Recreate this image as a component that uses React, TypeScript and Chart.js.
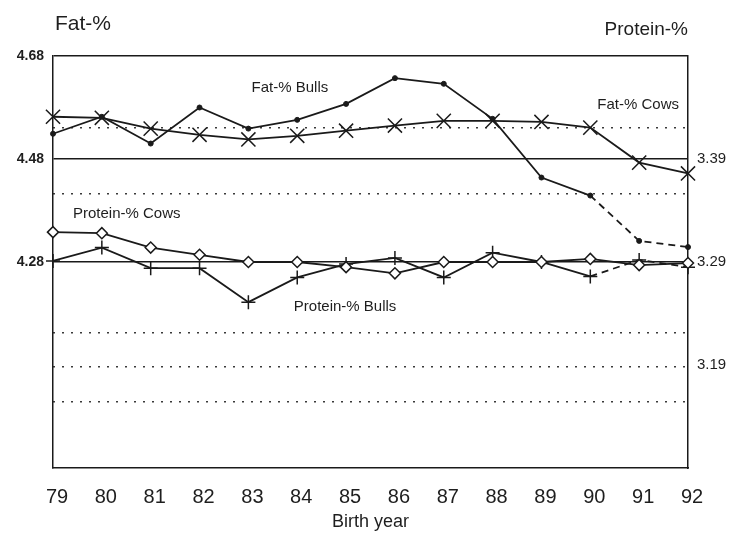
import React, { useEffect, useRef } from "react";
import { Chart, registerables } from "chart.js";

Chart.register(...registerables);

// ---- data ----
const years = ["79", "80", "81", "82", "83", "84", "85", "86", "87", "88", "89", "90", "91", "92"];
const fatBulls = [4.529, 4.562, 4.51, 4.58, 4.539, 4.556, 4.587, 4.637, 4.626, 4.558, 4.444, 4.409, 4.321, 4.309];
const fatCows = [4.562, 4.56, 4.539, 4.527, 4.518, 4.525, 4.535, 4.545, 4.554, 4.554, 4.552, 4.541, 4.473, 4.452];
const proteinCows = [3.319, 3.318, 3.304, 3.297, 3.29, 3.29, 3.285, 3.279, 3.29, 3.29, 3.29, 3.293, 3.287, 3.289];
const proteinBulls = [3.291, 3.304, 3.284, 3.284, 3.251, 3.275, 3.288, 3.294, 3.275, 3.299, 3.29, 3.276, 3.292, 3.285];
const predictedFromIndex = 11; // segments from '90 onward are dashed

const fatRange = [3.88, 4.68];
const proteinRange = [3.09, 3.49];
const fatTicks = [4.28, 4.48, 4.68];
const proteinTicks = [3.39, 3.29, 3.19];
const dottedGuides = [4.54, 4.412, 4.142, 4.076, 4.008];

const leftHeader = "Fat-%";
const rightHeader = "Protein-%";
const xTitle = "Birth year";

const seriesLabels = [
  { text: "Fat-% Bulls", year: 83.85, value: 4.618, axis: "y" },
  { text: "Fat-% Cows", year: 90.98, value: 4.585, axis: "y" },
  { text: "Protein-% Cows", year: 80.51, value: 3.337, axis: "y2" },
  { text: "Protein-% Bulls", year: 84.98, value: 3.246, axis: "y2" },
];

const FONT = "'Liberation Sans', Arial, Helvetica, sans-serif";
const INK = "#1a1a1a";
const TEXT = "#1e1e1e";

const textPlugin = {
  id: "textPlugin",
  afterDatasetsDraw(chart: any) {
    const { ctx, chartArea, scales } = chart;
    ctx.save();
    ctx.fillStyle = TEXT;
    ctx.textBaseline = "alphabetic";
    ctx.font = `21px ${FONT}`;
    ctx.textAlign = "left";
    ctx.fillText(leftHeader, chartArea.left + 2, chartArea.top - 26);
    ctx.font = `19px ${FONT}`;
    ctx.textAlign = "right";
    ctx.fillText(rightHeader, chartArea.right, chartArea.top - 21);

    ctx.font = `15px ${FONT}`;
    ctx.textAlign = "center";
    ctx.textBaseline = "middle";
    const first = Number(years[0]);
    seriesLabels.forEach((l) => {
      const x = scales.x.getPixelForValue(l.year - first);
      const y = scales[l.axis].getPixelForValue(l.value);
      ctx.fillText(l.text, x, y);
    });
    ctx.restore();
  },
};

const dashAfter = (ctx: any) => (ctx.p0DataIndex >= predictedFromIndex ? [7, 5] : undefined);

export default function App() {
  const ref = useRef<HTMLCanvasElement>(null);

  useEffect(() => {
    if (!ref.current) return;
    Chart.defaults.font.family = FONT;
    const chart = new Chart(ref.current, {
      type: "line",
      data: {
        labels: years,
        datasets: [
          {
            label: "Fat-% Bulls",
            data: fatBulls,
            yAxisID: "y",
            borderColor: INK,
            borderWidth: 1.8,
            pointStyle: "circle",
            pointRadius: 2.5,
            pointBackgroundColor: INK,
            pointBorderColor: INK,
            pointBorderWidth: 1,
            tension: 0,
            clip: false,
            segment: { borderDash: dashAfter },
          },
          {
            label: "Fat-% Cows",
            data: fatCows,
            yAxisID: "y",
            borderColor: INK,
            borderWidth: 1.8,
            pointStyle: "crossRot",
            pointRadius: 10,
            pointBorderColor: INK,
            pointBorderWidth: 1.5,
            tension: 0,
            clip: false,
          },
          {
            label: "Protein-% Cows",
            data: proteinCows,
            yAxisID: "y2",
            borderColor: INK,
            borderWidth: 1.8,
            pointStyle: "rectRot",
            pointRadius: 5.5,
            pointBackgroundColor: "#ffffff",
            pointBorderColor: INK,
            pointBorderWidth: 1.5,
            tension: 0,
            clip: false,
          },
          {
            label: "Protein-% Bulls",
            data: proteinBulls,
            yAxisID: "y2",
            borderColor: INK,
            borderWidth: 1.8,
            pointStyle: "cross",
            pointRadius: 7,
            pointBorderColor: INK,
            pointBorderWidth: 1.5,
            tension: 0,
            clip: false,
            segment: { borderDash: dashAfter },
          },
        ],
      },
      options: {
        responsive: false,
        animation: false,
        events: [],
        layout: { padding: { top: 56, left: 0, right: 0, bottom: 0 } },
        plugins: {
          legend: { display: false },
          tooltip: { enabled: false },
          title: { display: false },
        },
        scales: {
          x: {
            type: "category",
            position: "bottom",
            offset: false,
            grid: { display: false },
            border: { display: true, color: INK, width: 1.5 },
            ticks: {
              autoSkip: false,
              maxRotation: 0,
              font: { size: 20 },
              color: TEXT,
              padding: 9,
              labelOffset: 4,
            },
            title: {
              display: true,
              text: xTitle,
              font: { size: 18 },
              color: TEXT,
              padding: { top: 10, bottom: 2 },
            },
            afterFit: (s: any) => {
              s.height = 67;
            },
          },
          y: {
            type: "linear",
            position: "left",
            min: fatRange[0],
            max: fatRange[1],
            afterBuildTicks: (s: any) => {
              s.ticks = fatTicks.map((v) => ({ value: v }));
            },
            grid: { color: INK, lineWidth: 1.5, drawTicks: false },
            border: { display: true, color: INK, width: 1.5 },
            ticks: {
              font: { size: 14, weight: "bold" },
              color: TEXT,
              padding: 9,
              callback: (v: any) => Number(v).toFixed(2),
            },
            afterFit: (s: any) => {
              s.width = 53;
            },
          },
          guides: {
            type: "linear",
            position: "left",
            min: fatRange[0],
            max: fatRange[1],
            afterBuildTicks: (s: any) => {
              s.ticks = dottedGuides.map((v) => ({ value: v }));
            },
            grid: { color: "#3a3a3a", lineWidth: 1.6, drawTicks: false },
            border: { display: false, dash: [2, 7] },
            ticks: { display: false },
            afterFit: (s: any) => {
              s.width = 0;
            },
          },
          y2: {
            type: "linear",
            position: "right",
            min: proteinRange[0],
            max: proteinRange[1],
            afterBuildTicks: (s: any) => {
              s.ticks = proteinTicks.map((v) => ({ value: v }));
            },
            grid: { display: false, drawOnChartArea: false, drawTicks: false },
            border: { display: true, color: INK, width: 1.5 },
            ticks: {
              font: { size: 15 },
              color: TEXT,
              padding: 9,
              callback: (v: any) => Number(v).toFixed(2),
            },
            afterFit: (s: any) => {
              s.width = 47;
            },
          },
        },
      } as any,
      plugins: [textPlugin],
    });
    return () => chart.destroy();
  }, []);

  return (
    <div style={{ position: "fixed", left: 0, top: 0, width: 735, height: 535, background: "#ffffff" }}>
      <canvas ref={ref} width={735} height={535} style={{ display: "block", width: 735, height: 535 }} />
    </div>
  );
}
